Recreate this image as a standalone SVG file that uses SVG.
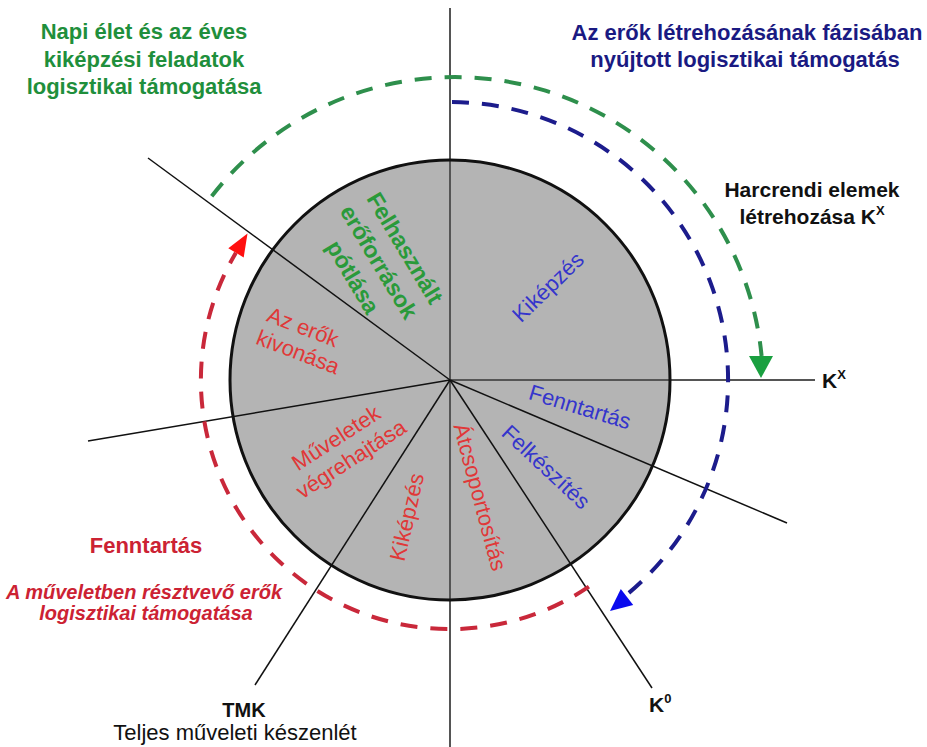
<svg xmlns="http://www.w3.org/2000/svg" width="927" height="747" viewBox="0 0 927 747">
  <style>
    text { font-family: "Liberation Sans", Arial, sans-serif; }
    .b { font-weight: bold; }
    .bi { font-weight: bold; font-style: italic; }
    .mid { text-anchor: middle; }
    .hdr-green { fill: #1f8f3c; font-size: 22px; }
    .hdr-blue { fill: #1a1a82; font-size: 22px; }
    .hdr-red { fill: #cc2233; }
    .blk { fill: #111111; }
    .in { font-size: 22px; text-anchor: middle; }
    .in-red { fill: #e03838; }
    .in-blue { fill: #3535cc; }
    .in-green { fill: #2a9a3a; font-weight: bold; font-size: 23px; }
    .axis { stroke: #555555; stroke-width: 2; fill: none; }
    .ray { stroke: #111111; stroke-width: 1.5; fill: none; }
    .dash { fill: none; stroke-width: 4; stroke-dasharray: 17 13; }
  </style>

  <rect width="927" height="747" fill="#ffffff"/>

  <!-- central disc -->
  <g id="disc">
    <circle cx="450" cy="380" r="220" fill="#b4b4b4"/>
  </g>

  <g id="connectors">
    <!-- axes -->
    <line class="axis" x1="450" y1="8" x2="450" y2="747"/>
    <line class="axis" x1="450" y1="380" x2="815" y2="380"/>
    <!-- phase boundaries -->
    <line class="ray" x1="450" y1="380" x2="148" y2="158"/>
    <line class="ray" x1="450" y1="380" x2="88" y2="441"/>
    <line class="ray" x1="450" y1="380" x2="255" y2="685"/>
    <line class="ray" x1="450" y1="380" x2="652" y2="688"/>
    <line class="ray" x1="450" y1="380" x2="787" y2="523"/>
    <!-- disc outline -->
    <circle cx="450" cy="380" r="220" fill="none" stroke="#111111" stroke-width="3"/>

    <!-- green cycle arc -->
    <path class="dash" stroke="#2e8f4c" d="M 211.7 196.2 A 308 308 0 0 1 761.6 356"/>
    <polygon fill="#1aa040" points="749,356 773,356 761,378"/>

    <!-- blue cycle arc -->
    <path class="dash" stroke="#1c1c8c" d="M 452 102 A 278 278 0 0 1 625.7 595.5"/>
    <polygon fill="#0a0aee" points="633.2,604.9 620.8,589.1 610,611"/>

    <!-- red cycle arc -->
    <path class="dash" stroke="#c9283a" d="M 588.9 586.7 A 249 249 0 0 1 235.9 252.8"/>
    <polygon fill="#ff1010" points="228.3,248.2 243.7,257.4 247.5,233.5"/>
  </g>

  <!-- headers -->
  <g id="hdr-daily">
    <text class="b mid hdr-green" x="144" y="39">Napi élet és az éves</text>
    <text class="b mid hdr-green" x="144" y="66.5">kiképzési feladatok</text>
    <text class="b mid hdr-green" x="144" y="94">logisztikai támogatása</text>
  </g>
  <g id="hdr-generation">
    <text class="b mid hdr-blue" x="747" y="40">Az erők létrehozásának fázisában</text>
    <text class="b mid hdr-blue" x="745" y="67">nyújtott logisztikai támogatás</text>
  </g>
  <g id="hdr-order">
    <text class="b mid blk" x="812" y="197" font-size="21">Harcrendi elemek</text>
    <text class="b mid blk" x="812" y="223.5" font-size="21">létrehozása K<tspan font-size="13" dy="-9">X</tspan></text>
  </g>
  <g id="hdr-sustain">
    <text class="b mid hdr-red" x="146" y="553" font-size="22">Fenntartás</text>
    <text class="bi mid hdr-red" x="144" y="599" font-size="20">A műveletben résztvevő erők</text>
    <text class="bi mid hdr-red" x="146" y="620" font-size="20">logisztikai támogatása</text>
  </g>

  <!-- axis marks -->
  <g id="mark-kx">
    <text class="b blk" x="822" y="388" font-size="21">K<tspan font-size="13" dy="-9">X</tspan></text>
  </g>
  <g id="mark-k0">
    <text class="b blk" x="649" y="712" font-size="21">K<tspan font-size="13" dy="-9">0</tspan></text>
  </g>
  <g id="mark-tmk">
    <text class="b mid blk" x="244" y="717" font-size="20">TMK</text>
    <text class="mid blk" x="235" y="740" font-size="22">Teljes műveleti készenlét</text>
  </g>

  <!-- phase labels inside the disc -->
  <g id="phase-replenish" class="in-green">
    <text class="mid" transform="translate(405,248) rotate(59)" y="8">Felhasznált</text>
    <text class="mid" transform="translate(379,262) rotate(59)" y="8">erőforrások</text>
    <text class="mid" transform="translate(353,277) rotate(59)" y="8">pótlása</text>
  </g>
  <g id="phase-withdraw" class="in in-red">
    <text transform="translate(303,327) rotate(21)" y="7.5">Az erők</text>
    <text transform="translate(298,352) rotate(21)" y="7.5">kivonása</text>
  </g>
  <g id="phase-operations" class="in in-red">
    <text transform="translate(336,438) rotate(-33)" y="7.5">Műveletek</text>
    <text transform="translate(351,459) rotate(-33)" y="7.5">végrehajtása</text>
  </g>
  <g id="phase-training-red" class="in in-red">
    <text transform="translate(407,517) rotate(-77)" y="7.5">Kiképzés</text>
  </g>
  <g id="phase-regroup" class="in in-red">
    <text transform="translate(480,497) rotate(75)" y="7.5">Átcsoportosítás</text>
  </g>
  <g id="phase-prepare" class="in in-blue">
    <text transform="translate(546,467) rotate(43)" y="7.5">Felkészítés</text>
  </g>
  <g id="phase-maintain" class="in in-blue">
    <text transform="translate(580,407) rotate(17)" y="7.5">Fenntartás</text>
  </g>
  <g id="phase-training-blue" class="in in-blue">
    <text transform="translate(548,287) rotate(-44)" y="7.5">Kiképzés</text>
  </g>
</svg>
